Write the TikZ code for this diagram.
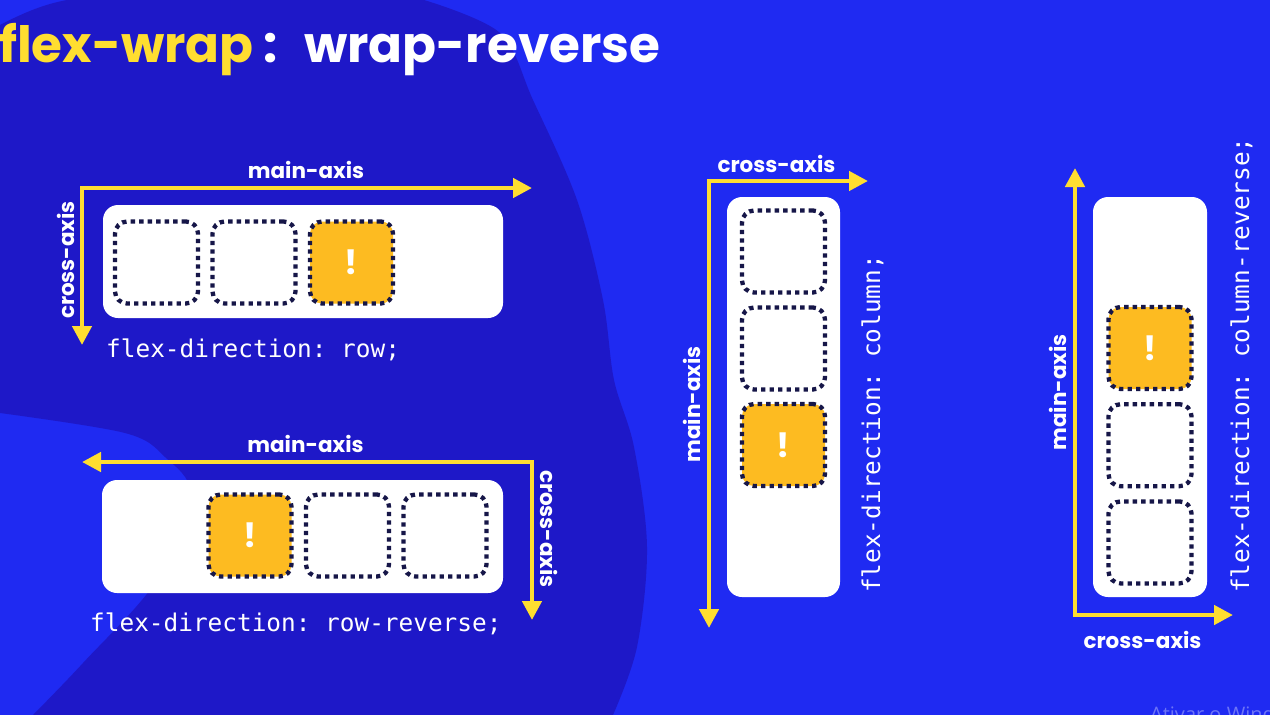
\documentclass[tikz,border=0pt]{standalone}
\usepackage{fontspec}
\setmainfont{Poppins}
\newfontfamily\codefont{DejaVu Sans Mono}
\newfontfamily\winfont{Open Sans}
\usetikzlibrary{arrows.meta}
\definecolor{bgblue}{RGB}{31,42,242}
\definecolor{blobblue}{RGB}{30,24,200}
\definecolor{axisyellow}{RGB}{255,222,48}
\definecolor{itemorange}{RGB}{253,187,33}
\definecolor{dotnavy}{RGB}{22,22,72}
\frenchspacing

\tikzset{
  axisline/.style={draw=axisyellow, line width=4.5pt,
    {Triangle[length=19pt,width=19pt]}-{Triangle[length=19pt,width=19pt]}},
  container/.style={fill=white, rounded corners=15pt, inner sep=0pt},
  itembox/.style={draw=dotnavy, fill=white, line width=4.3pt, dash pattern=on 4.3pt off 4.2pt,
    rounded corners=12pt, minimum width=83pt, minimum height=82pt, inner sep=0pt},
  flagged/.style={itembox, fill=itemorange, text=white, font=\bfseries\fontsize{34}{34}\selectfont},
  axislabel/.style={text=white, inner sep=0pt, font=\bfseries\fontsize{21.5}{22}\selectfont},
  codelabel/.style={text=white, inner sep=0pt, font=\codefont\fontsize{24.4}{26}\selectfont},
  titletext/.style={anchor=base west, inner sep=0pt, font=\bfseries\fontsize{50}{50}\selectfont},
}

\begin{document}
\begin{tikzpicture}[x=1pt, y=-1pt]

\useasboundingbox (0,0) rectangle (1270,715);
\fill[bgblue] (0,0) rectangle (1270,715);
\fill[blobblue] (67,0) -- (424,0)
  -- plot[smooth, tension=0.55] coordinates {(424,0) (500,33) (533,100) (577,200) (603,300) (614,380) (634,447) (647,547) (637,647) (613,715)}
  -- (33,715)
  -- plot[smooth, tension=0.55] coordinates {(33,715) (83,663) (157,580) (190,495) (165,457) (125,433) (0,413)}
  -- (0,25) .. controls (25,12) and (45,4) .. (67,0) -- cycle;

% === title ===
\node[titletext, text=axisyellow] (title-prop) at (-1,62) {flex-wrap};
\node[titletext, text=white] (title-colon) at (263,62) {:};
\node[titletext, text=white] (title-value) at (304,62) {wrap-reverse};

% === flex-direction: row ===
\coordinate (row-origin) at (82,188);
\coordinate (row-main) at (532,188);
\coordinate (row-cross) at (82,345);
\draw[axisline] (row-cross) -- (row-origin) -- (row-main);
\node[axislabel] (row-mainlabel) at (306,170) {main-axis};
\node[axislabel, rotate=90] (row-crosslabel) at (65.5,260) {cross-axis};
\node[container, minimum width=400pt, minimum height=113pt] (row-box) at (303,261.5) {};
\foreach \i in {1,2}
  \node[itembox] (row-item\i) at (59+97.5*\i,262.5) {};
\node[flagged] (row-item3) at (351.5,262.5) {!};
\node[codelabel, anchor=base west] (row-code) at (106,357) {flex-direction: row;};

% === flex-direction: row-reverse ===
\coordinate (rrev-origin) at (532,462);
\coordinate (rrev-main) at (82,462);
\coordinate (rrev-cross) at (532,620);
\draw[axisline] (rrev-main) -- (rrev-origin) -- (rrev-cross);
\node[axislabel] (rrev-mainlabel) at (305.5,443.5) {main-axis};
\node[axislabel, rotate=-90] (rrev-crosslabel) at (549,529) {cross-axis};
\node[container, minimum width=401pt, minimum height=113pt] (rrev-box) at (302.5,536.5) {};
\node[flagged] (rrev-item3) at (250,535.5) {!};
\foreach \i in {1,2}
  \node[itembox] (rrev-item\i) at (250+97.5*\i,535.5) {};
\node[codelabel, anchor=base west] (rrev-code) at (90,631) {flex-direction: row-reverse;};

% === flex-direction: column ===
\coordinate (col-origin) at (709,181);
\coordinate (col-cross) at (868,181);
\coordinate (col-main) at (709,628);
\draw[axisline] (col-cross) -- (col-origin) -- (col-main);
\node[axislabel] (col-crosslabel) at (776.5,163.5) {cross-axis};
\node[axislabel, rotate=90] (col-mainlabel) at (691.5,404.5) {main-axis};
\node[container, minimum width=113pt, minimum height=400pt] (col-box) at (783.5,397) {};
\foreach \i in {1,2}
  \node[itembox] (col-item\i) at (783.5,154.5+97*\i) {};
\node[flagged] (col-item3) at (783.5,445) {!};
\node[codelabel, anchor=base west, rotate=90] (col-code) at (880,593) {flex-direction: column;};

% === flex-direction: column-reverse ===
\coordinate (crev-origin) at (1075,615);
\coordinate (crev-main) at (1075,168);
\coordinate (crev-cross) at (1233,615);
\draw[axisline] (crev-main) -- (crev-origin) -- (crev-cross);
\node[axislabel, rotate=90] (crev-mainlabel) at (1057.5,392.5) {main-axis};
\node[axislabel] (crev-crosslabel) at (1142.5,640) {cross-axis};
\node[container, minimum width=114pt, minimum height=400pt] (crev-box) at (1150,397) {};
\node[flagged] (crev-item3) at (1150,348) {!};
\foreach \i in {1,2}
  \node[itembox] (crev-item\i) at (1150,348+97.2*\i) {};
\node[codelabel, anchor=base west, rotate=90] (crev-code) at (1249,593) {flex-direction: column-reverse;};

\node[anchor=base west, inner sep=0pt, text=white, opacity=0.35, font=\winfont\fontsize{20}{20}\selectfont] (watermark) at (1150,721) {Ativar o Wind};

\end{tikzpicture}
\end{document}
